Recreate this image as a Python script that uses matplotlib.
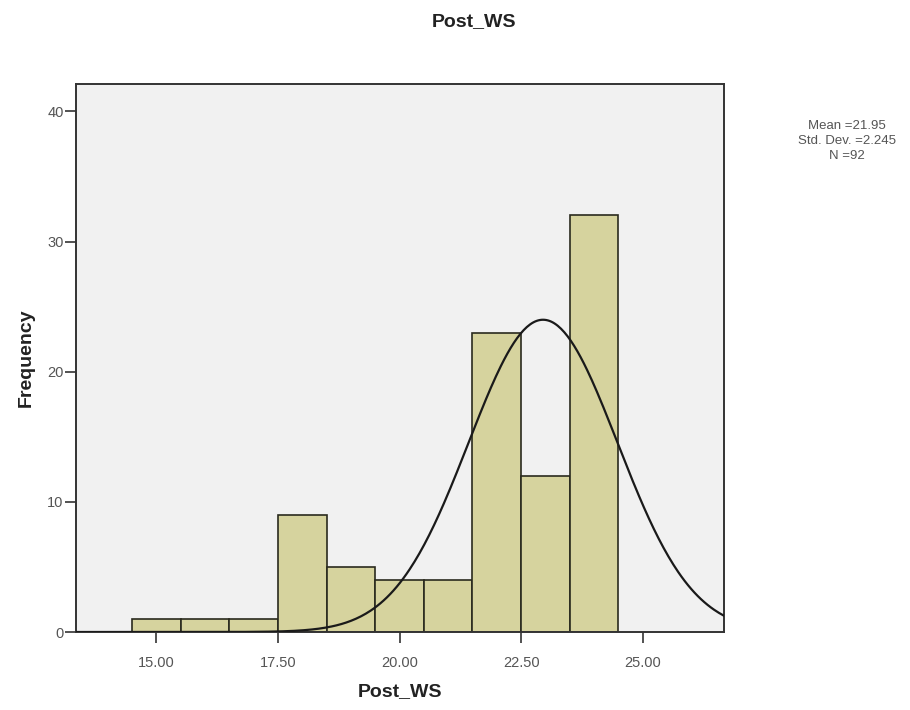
import numpy as np
import matplotlib
matplotlib.use("Agg")
import matplotlib.pyplot as plt

# Histogram of Post_WS scores (bins of width 1, centred on whole numbers)
bin_centers = [15, 16, 17, 18, 19, 20, 21, 22, 23, 24]
frequencies = [1, 1, 1, 9, 5, 4, 4, 23, 12, 32]
bin_width = 1.0

# Summary statistics shown beside the chart
stat_mean = 21.95
stat_sd = 2.245
stat_n = 92

# Normal curve overlay (location / spread as drawn)
curve_mean = 22.95
curve_sd = 1.53

x_ticks = [15.0, 17.5, 20.0, 22.5, 25.0]
y_ticks = [0, 10, 20, 30, 40]

plt.rcParams['font.family'] = ['Liberation Sans', 'DejaVu Sans']

fig = plt.figure(figsize=(9.1, 7.1), dpi=100)
fig.patch.set_facecolor('white')
ax = fig.add_axes([76 / 910, 1 - 632 / 710, (724 - 76) / 910, (632 - 84) / 710])
ax.set_facecolor('#f1f1f1')

ax.bar(bin_centers, frequencies, width=bin_width, color='#d6d39e',
       edgecolor='#2a2a1e', linewidth=1.2, zorder=2)

xs = np.linspace(13.35, 26.7, 400)
ys = stat_n * bin_width / (curve_sd * np.sqrt(2 * np.pi)) * \
    np.exp(-0.5 * ((xs - curve_mean) / curve_sd) ** 2)
ax.plot(xs, ys, color='#1a1a1a', linewidth=1.6, zorder=3)

ax.set_xlim(13.35, 26.67)
ax.set_ylim(0, 42.1)
ax.set_xticks(x_ticks)
ax.set_xticklabels([f"{v:.2f}" for v in x_ticks])
ax.set_yticks(y_ticks)
ax.tick_params(axis='both', direction='out', length=8, width=1.2,
               colors='#333333', labelsize=10.5, labelcolor='#555555')
ax.tick_params(axis='x', pad=9)
ax.tick_params(axis='y', pad=1)

for sp in ax.spines.values():
    sp.set_color('#333333')
    sp.set_linewidth(1.4)

ax.set_xlabel('Post_WS', fontsize=14, fontweight='bold', color='#222222', labelpad=10)
ax.set_ylabel('Frequency', fontsize=14, fontweight='bold', color='#222222', labelpad=9)

fig.text(474 / 910, 1 - 22 / 710, 'Post_WS', ha='center', va='center',
         fontsize=14, fontweight='bold', color='#222222')

fig.text(847 / 910, 1 - 141 / 710,
         f"Mean ={stat_mean:.2f}\nStd. Dev. ={stat_sd:.3f}\nN ={stat_n}",
         ha='center', va='center', fontsize=9.5, color='#555555', linespacing=1.35)

fig.savefig('out.png', dpi=100)
